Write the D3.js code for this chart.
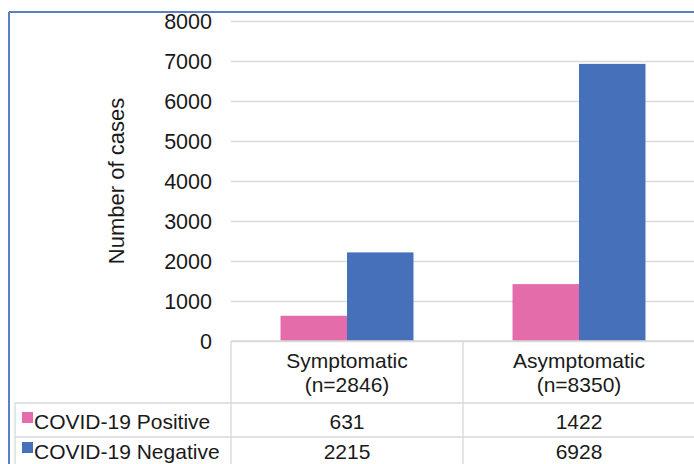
<!DOCTYPE html>
<html><head><meta charset="utf-8">
<script src="https://cdn.jsdelivr.net/npm/d3@7"></script>
<style>body{margin:0;background:#fff}svg{display:block}text{font-family:"Liberation Sans",Arial,sans-serif;fill:#1a1a1a}</style>
</head><body><svg id="c" width="694" height="464"></svg>
<script>
const categories = ["Symptomatic", "Asymptomatic"];
const categoryN = ["(n=2846)", "(n=8350)"];
const seriesNames = ["COVID-19 Positive", "COVID-19 Negative"];
const positiveValues = [631, 1422];
const negativeValues = [2215, 6928];
const yTicks = [0, 1000, 2000, 3000, 4000, 5000, 6000, 7000, 8000];
const colors = ["#E46CAB", "#4670B9"];
const seriesValues = [positiveValues, negativeValues];

(function () {
const svg = d3.select("#c");
const pLeft = 231, pRight = 695, pTop = 21, pBottom = 341;
const gridColor = "#d9d9d9";

const x = d3.scaleBand().domain(categories).range([pLeft, pRight]).padding(0);
const xs = d3.scaleBand().domain(seriesNames).range([0, x.bandwidth()]).paddingInner(0).paddingOuter(0.745);
const y = d3.scaleLinear().domain([0, 8000]).range([pBottom, pTop]);

// frame
svg.append("line").attr("x1", 9).attr("x2", 694).attr("y1", 12).attr("y2", 12).attr("stroke", "#5b7fc4").attr("stroke-width", 2);
svg.append("line").attr("x1", 9).attr("x2", 9).attr("y1", 12).attr("y2", 464).attr("stroke", "#5b7fc4").attr("stroke-width", 2);

// gridlines
const yAxis = d3.axisLeft(y).tickValues(yTicks).tickSize(-(pRight - pLeft)).tickPadding(19).tickFormat(d3.format("d"));
const gy = svg.append("g").attr("transform", `translate(${pLeft},0)`).call(yAxis);
gy.select(".domain").remove();
gy.selectAll(".tick line").attr("stroke", gridColor).attr("stroke-width", 1.3);
gy.selectAll(".tick text").attr("font-size", "21.5px").attr("fill", "#1a1a1a").attr("font-family", '"Liberation Sans",Arial,sans-serif').attr("dy", "0.36em");

// axis title
svg.append("text").attr("transform", "translate(124,181) rotate(-90)").attr("text-anchor", "middle")
  .attr("font-size", "22px").text("Number of cases");

// bars
categories.forEach((c, i) => {
  seriesNames.forEach((s, j) => {
    svg.append("rect")
      .attr("x", x(c) + xs(s)).attr("width", xs.bandwidth())
      .attr("y", y(seriesValues[j][i])).attr("height", y(0) - y(seriesValues[j][i]))
      .attr("fill", colors[j]);
  });
});

// data table
const g = svg.append("g").attr("stroke", gridColor).attr("stroke-width", 1.3);
g.append("line").attr("x1", pLeft).attr("x2", 694).attr("y1", pBottom).attr("y2", pBottom);
g.append("line").attr("x1", 15).attr("x2", 694).attr("y1", 403).attr("y2", 403);
g.append("line").attr("x1", 15).attr("x2", 694).attr("y1", 437).attr("y2", 437);
g.append("line").attr("x1", 15).attr("x2", 15).attr("y1", 403).attr("y2", 464);
g.append("line").attr("x1", pLeft).attr("x2", pLeft).attr("y1", pBottom).attr("y2", 464);
g.append("line").attr("x1", x(categories[1])).attr("x2", x(categories[1])).attr("y1", pBottom).attr("y2", 464);

categories.forEach((c, i) => {
  const cx = x(c) + x.bandwidth() / 2;
  svg.append("text").attr("x", cx).attr("y", 368).attr("text-anchor", "middle").attr("font-size", "21px").text(c);
  svg.append("text").attr("x", cx).attr("y", 392).attr("text-anchor", "middle").attr("font-size", "21px").text(categoryN[i]);
  svg.append("text").attr("x", cx).attr("y", 429).attr("text-anchor", "middle").attr("font-size", "21px").text(positiveValues[i]);
  svg.append("text").attr("x", cx).attr("y", 459).attr("text-anchor", "middle").attr("font-size", "21px").text(negativeValues[i]);
});

seriesNames.forEach((s, j) => {
  const yy = j === 0 ? 429 : 459;
  svg.append("rect").attr("x", 22).attr("y", yy - 17).attr("width", 11).attr("height", 11).attr("fill", colors[j]);
  svg.append("text").attr("x", 34).attr("y", yy).attr("font-size", "21px").text(s);
});
})();
</script></body></html>
